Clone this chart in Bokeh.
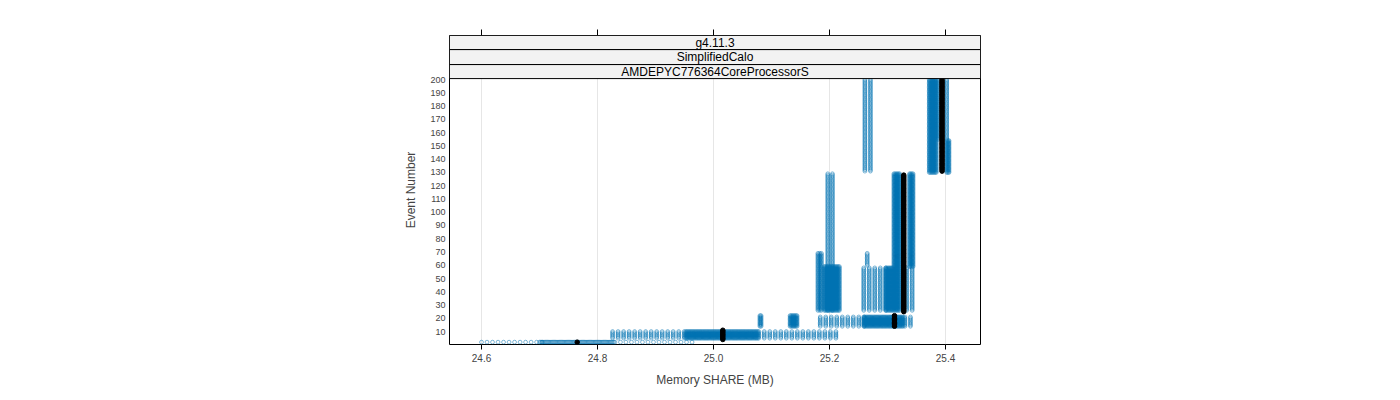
import numpy as np
from bokeh.plotting import figure
from bokeh.models import Range1d, FixedTicker, LinearAxis, ColumnDataSource
from bokeh.core.properties import value
from bokeh.embed import file_html
from bokeh.resources import INLINE

# ---------------- data ----------------
strip_labels = ["g4.11.3", "SimplifiedCalo", "AMDEPYC776364CoreProcessorS"]
x_ticks = [24.6, 24.8, 25.0, 25.2, 25.4]
x_tick_labels = ["24.6", "24.8", "25.0", "25.2", "25.4"]
y_ticks = [10, 20, 30, 40, 50, 60, 70, 80, 90, 100,
           110, 120, 130, 140, 150, 160, 170, 180, 190, 200]

# blocks of memory readings: memory range [mem_lo, mem_hi] (MB) read every mem_step,
# for every event ev_lo..ev_hi
mem_lo = [24.600, 24.700, 24.830, 24.826, 24.952, 25.078, 25.080, 25.132, 25.184,
          25.259, 25.330, 25.180, 25.191, 25.197, 25.265, 25.259, 25.297, 25.333,
          25.311, 25.338, 25.261, 25.372, 25.387, 25.402, 25.402]
mem_hi = [24.700, 24.828, 24.966, 24.950, 25.076, 25.212, 25.082, 25.144, 25.257,
          25.326, 25.342, 25.186, 25.217, 25.205, 25.265, 25.295, 25.321, 25.343,
          25.321, 25.344, 25.271, 25.384, 25.387, 25.406, 25.402]
mem_step = [0.0095, 0.002, 0.0095, 0.0095, 0.002, 0.0095, 0.002, 0.002, 0.0095,
            0.002, 0.0095, 0.003, 0.002, 0.008, 0.002, 0.0095, 0.002, 0.0095,
            0.002, 0.002, 0.0095, 0.002, 0.002, 0.002, 0.002]
ev_lo = [2, 2, 2, 5, 5, 5, 14, 14, 14, 14, 14, 26, 26, 26, 60, 26, 26, 26,
         59, 59, 131, 130, 155, 130, 155]
ev_hi = [2, 2, 2, 10, 10, 10, 22, 22, 21, 21, 21, 69, 59, 129, 69, 58, 58, 58,
         129, 129, 200, 200, 200, 154, 200]

# black track
trk_mem = [24.765, 25.016, 25.312, 25.328, 25.394]
trk_ev_lo = [2, 4, 14, 25, 131]
trk_ev_hi = [2, 11, 22, 128, 200]

# ---------------- build points ----------------
xs, ys = [], []
for a, b, s, e0, e1 in zip(mem_lo, mem_hi, mem_step, ev_lo, ev_hi):
    mem = np.arange(a, b + s / 2, s)
    ev = np.arange(e0, e1 + 1)
    X, Y = np.meshgrid(mem, ev)
    xs.append(X.ravel()); ys.append(Y.ravel())
pts = ColumnDataSource(dict(x=np.concatenate(xs), y=np.concatenate(ys)))

tx, ty = [], []
for m, e0, e1 in zip(trk_mem, trk_ev_lo, trk_ev_hi):
    ev = np.arange(e0, e1 + 1)
    tx.append(np.full(len(ev), m)); ty.append(ev)
trk = ColumnDataSource(dict(x=np.concatenate(tx), y=np.concatenate(ty)))

# ---------------- figure ----------------
FONT = "Liberation Sans"
x_lo, x_hi = 24.5448, 25.4603
y_lo, y_top = 0.23, 233.3
panel_top = 200.8
strip_edges = [panel_top, 211.4, 222.7, y_top]

p = figure(width=1400, height=400, output_backend="svg", toolbar_location=None,
           x_range=Range1d(x_lo, x_hi), y_range=Range1d(y_lo, y_top),
           min_border_left=449, min_border_right=420,
           min_border_top=35, min_border_bottom=56)
p.background_fill_color = "white"
p.border_fill_color = "white"
p.outline_line_color = "black"

p.xgrid.ticker = FixedTicker(ticks=x_ticks)
p.xgrid.grid_line_color = "#E6E6E6"
p.ygrid.grid_line_color = None

xa = p.xaxis[0]
xa.ticker = FixedTicker(ticks=x_ticks)
xa.major_label_overrides = {t: l for t, l in zip(x_ticks, x_tick_labels)}
xa.axis_line_color = None
xa.major_tick_out = 5
xa.major_tick_in = 0
xa.minor_tick_line_color = None
xa.major_label_standoff = 4
xa.major_label_text_font = FONT
xa.major_label_text_font_size = "10px"
xa.axis_label = "Memory SHARE (MB)"
xa.axis_label_text_font = FONT
xa.axis_label_text_font_size = "12px"
xa.axis_label_text_font_style = "normal"
xa.axis_label_standoff = 8

ya = p.yaxis[0]
ya.ticker = FixedTicker(ticks=y_ticks)
ya.axis_line_color = None
ya.major_tick_out = 0
ya.major_tick_in = 0
ya.minor_tick_line_color = None
ya.major_label_standoff = 4
ya.major_label_text_font = FONT
ya.major_label_text_font_size = "9px"
ya.axis_label = "Event Number"
ya.axis_label_text_font = FONT
ya.axis_label_text_font_size = "12px"
ya.axis_label_text_font_style = "normal"
ya.axis_label_standoff = 9

top = LinearAxis(ticker=FixedTicker(ticks=x_ticks))
top.axis_line_color = None
top.major_tick_out = 6
top.major_tick_in = 0
top.minor_tick_line_color = None
top.major_label_text_font_size = "0px"
top.major_label_text_alpha = 0
p.add_layout(top, "above")

p.scatter("x", "y", source=pts, marker="circle", size=3.8, fill_color=None,
          line_color="#0072B2", line_alpha=0.5, line_width=1)
p.scatter("x", "y", source=trk, marker="circle", size=4.5, fill_color="black",
          line_color="black")

# strips (bottom strip is the innermost label)
sb = strip_edges[:-1]
st = strip_edges[1:]
p.quad(left=[x_lo] * 3, right=[x_hi] * 3, bottom=sb, top=st,
       fill_color="#F2F2F2", line_color="black", line_width=1)
p.text(x=[(x_lo + x_hi) / 2] * 3, y=[(b + t) / 2 for b, t in zip(sb, st)],
       text=list(reversed(strip_labels)), text_align="center",
       text_baseline="middle", text_font=value(FONT), text_font_size="12px",
       text_color="black")

open("out.html", "w").write(file_html(p, INLINE))
